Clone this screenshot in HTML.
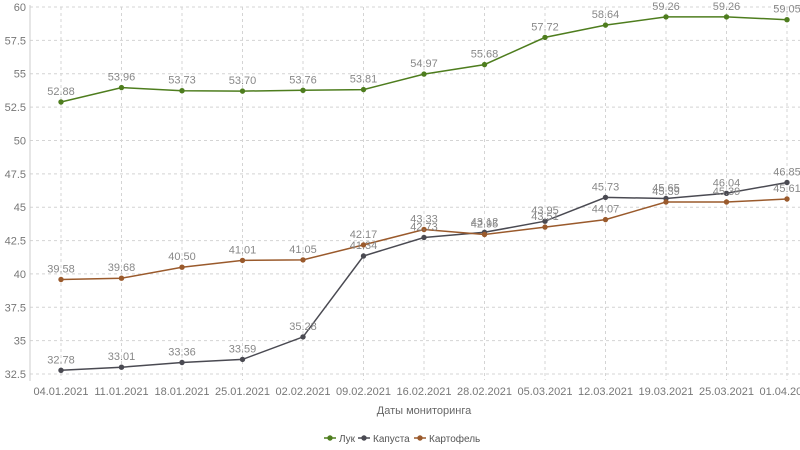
<!DOCTYPE html>
<html><head><meta charset="utf-8"><style>body{margin:0;background:#fff}svg{display:block;font-family:"Liberation Sans",sans-serif}</style></head><body>
<svg width="800" height="450" xmlns="http://www.w3.org/2000/svg">
<g stroke="#d4d4d4" stroke-dasharray="3,3">
<line x1="30" x2="800" y1="374" y2="374"/><line x1="30" x2="800" y1="340.6" y2="340.6"/><line x1="30" x2="800" y1="307.3" y2="307.3"/><line x1="30" x2="800" y1="273.9" y2="273.9"/><line x1="30" x2="800" y1="240.6" y2="240.6"/><line x1="30" x2="800" y1="207.2" y2="207.2"/><line x1="30" x2="800" y1="173.9" y2="173.9"/><line x1="30" x2="800" y1="140.5" y2="140.5"/><line x1="30" x2="800" y1="107.1" y2="107.1"/><line x1="30" x2="800" y1="73.7" y2="73.7"/><line x1="30" x2="800" y1="40.4" y2="40.4"/><line x1="30" x2="800" y1="7" y2="7"/>
<line x1="61" x2="61" y1="7" y2="380"/><line x1="121.5" x2="121.5" y1="7" y2="380"/><line x1="182" x2="182" y1="7" y2="380"/><line x1="242.5" x2="242.5" y1="7" y2="380"/><line x1="303" x2="303" y1="7" y2="380"/><line x1="363.5" x2="363.5" y1="7" y2="380"/><line x1="424" x2="424" y1="7" y2="380"/><line x1="484.5" x2="484.5" y1="7" y2="380"/><line x1="545" x2="545" y1="7" y2="380"/><line x1="605.5" x2="605.5" y1="7" y2="380"/><line x1="666" x2="666" y1="7" y2="380"/><line x1="726.5" x2="726.5" y1="7" y2="380"/><line x1="787" x2="787" y1="7" y2="380"/>
</g>
<line x1="30" x2="30" y1="5" y2="381" stroke="#ccc"/>
<g font-size="11" fill="#777" text-anchor="end">
<text x="26" y="378">32.5</text><text x="26" y="344.6">35</text><text x="26" y="311.3">37.5</text><text x="26" y="277.9">40</text><text x="26" y="244.6">42.5</text><text x="26" y="211.2">45</text><text x="26" y="177.9">47.5</text><text x="26" y="144.5">50</text><text x="26" y="111.1">52.5</text><text x="26" y="77.7">55</text><text x="26" y="44.4">57.5</text><text x="26" y="11">60</text>
</g>
<g font-size="11" fill="#777" text-anchor="middle">
<text x="61" y="395">04.01.2021</text><text x="121.5" y="395">11.01.2021</text><text x="182" y="395">18.01.2021</text><text x="242.5" y="395">25.01.2021</text><text x="303" y="395">02.02.2021</text><text x="363.5" y="395">09.02.2021</text><text x="424" y="395">16.02.2021</text><text x="484.5" y="395">28.02.2021</text><text x="545" y="395">05.03.2021</text><text x="605.5" y="395">12.03.2021</text><text x="666" y="395">19.03.2021</text><text x="726.5" y="395">25.03.2021</text><text x="787" y="395">01.04.2021</text>
<text x="424" y="414" fill="#666">Даты мониторинга</text>
</g>
<g fill="none" stroke-width="1.5">
<polyline stroke="#4e7d1e" points="61,102 121.5,87.6 182,90.7 242.5,91.1 303,90.3 363.5,89.6 424,74.1 484.5,64.6 545,37.4 605.5,25.1 666,16.9 726.5,16.9 787,19.7"/>
<polyline stroke="#4a4a52" points="61,370.3 121.5,367.2 182,362.5 242.5,359.4 303,336.9 363.5,256 424,237.5 484.5,232.3 545,221.2 605.5,197.4 666,198.5 726.5,193.3 787,182.5"/>
<polyline stroke="#9a5a2c" points="61,279.5 121.5,278.2 182,267.2 242.5,260.4 303,259.9 363.5,244.9 424,229.5 484.5,234.5 545,227.1 605.5,219.6 666,202 726.5,202 787,199"/>
</g>
<g fill="#4e7d1e"><circle cx="61" cy="102" r="2.7"/><circle cx="121.5" cy="87.6" r="2.7"/><circle cx="182" cy="90.7" r="2.7"/><circle cx="242.5" cy="91.1" r="2.7"/><circle cx="303" cy="90.3" r="2.7"/><circle cx="363.5" cy="89.6" r="2.7"/><circle cx="424" cy="74.1" r="2.7"/><circle cx="484.5" cy="64.6" r="2.7"/><circle cx="545" cy="37.4" r="2.7"/><circle cx="605.5" cy="25.1" r="2.7"/><circle cx="666" cy="16.9" r="2.7"/><circle cx="726.5" cy="16.9" r="2.7"/><circle cx="787" cy="19.7" r="2.7"/></g>
<g fill="#4a4a52"><circle cx="61" cy="370.3" r="2.7"/><circle cx="121.5" cy="367.2" r="2.7"/><circle cx="182" cy="362.5" r="2.7"/><circle cx="242.5" cy="359.4" r="2.7"/><circle cx="303" cy="336.9" r="2.7"/><circle cx="363.5" cy="256" r="2.7"/><circle cx="424" cy="237.5" r="2.7"/><circle cx="484.5" cy="232.3" r="2.7"/><circle cx="545" cy="221.2" r="2.7"/><circle cx="605.5" cy="197.4" r="2.7"/><circle cx="666" cy="198.5" r="2.7"/><circle cx="726.5" cy="193.3" r="2.7"/><circle cx="787" cy="182.5" r="2.7"/></g>
<g fill="#9a5a2c"><circle cx="61" cy="279.5" r="2.7"/><circle cx="121.5" cy="278.2" r="2.7"/><circle cx="182" cy="267.2" r="2.7"/><circle cx="242.5" cy="260.4" r="2.7"/><circle cx="303" cy="259.9" r="2.7"/><circle cx="363.5" cy="244.9" r="2.7"/><circle cx="424" cy="229.5" r="2.7"/><circle cx="484.5" cy="234.5" r="2.7"/><circle cx="545" cy="227.1" r="2.7"/><circle cx="605.5" cy="219.6" r="2.7"/><circle cx="666" cy="202" r="2.7"/><circle cx="726.5" cy="202" r="2.7"/><circle cx="787" cy="199" r="2.7"/></g>
<g font-size="11" fill="#888" text-anchor="middle">
<text x="61" y="95">52.88</text><text x="121.5" y="80.6">53.96</text><text x="182" y="83.7">53.73</text><text x="242.5" y="84.1">53.70</text><text x="303" y="83.3">53.76</text><text x="363.5" y="82.6">53.81</text><text x="424" y="67.1">54.97</text><text x="484.5" y="57.6">55.68</text><text x="545" y="30.4">57.72</text><text x="605.5" y="18.1">58.64</text><text x="666" y="9.9">59.26</text><text x="726.5" y="9.9">59.26</text><text x="787" y="12.7">59.05</text>
<text x="61" y="363.3">32.78</text><text x="121.5" y="360.2">33.01</text><text x="182" y="355.5">33.36</text><text x="242.5" y="352.4">33.59</text><text x="303" y="329.9">35.28</text><text x="363.5" y="249">41.34</text><text x="424" y="230.5">42.73</text><text x="484.5" y="225.3">43.12</text><text x="545" y="214.2">43.95</text><text x="605.5" y="190.4">45.73</text><text x="666" y="191.5">45.65</text><text x="726.5" y="186.3">46.04</text><text x="787" y="175.5">46.85</text>
<text x="61" y="272.5">39.58</text><text x="121.5" y="271.2">39.68</text><text x="182" y="260.2">40.50</text><text x="242.5" y="253.4">41.01</text><text x="303" y="252.9">41.05</text><text x="363.5" y="237.9">42.17</text><text x="424" y="222.5">43.33</text><text x="484.5" y="227.5">42.95</text><text x="545" y="220.1">43.51</text><text x="605.5" y="212.6">44.07</text><text x="666" y="195">45.39</text><text x="726.5" y="195">45.39</text><text x="787" y="192">45.61</text>
</g>
<g font-size="10" fill="#555">
<line x1="324" x2="336" y1="438" y2="438" stroke="#4e7d1e" stroke-width="1.5"/><circle cx="330" cy="438" r="2.7" fill="#4e7d1e"/><text x="339" y="442">Лук</text>
<line x1="358" x2="370" y1="438" y2="438" stroke="#4a4a52" stroke-width="1.5"/><circle cx="364" cy="438" r="2.7" fill="#4a4a52"/><text x="373" y="442">Капуста</text>
<line x1="414" x2="426" y1="438" y2="438" stroke="#9a5a2c" stroke-width="1.5"/><circle cx="420" cy="438" r="2.7" fill="#9a5a2c"/><text x="429" y="442">Картофель</text>
</g>
</svg>
</body></html>
